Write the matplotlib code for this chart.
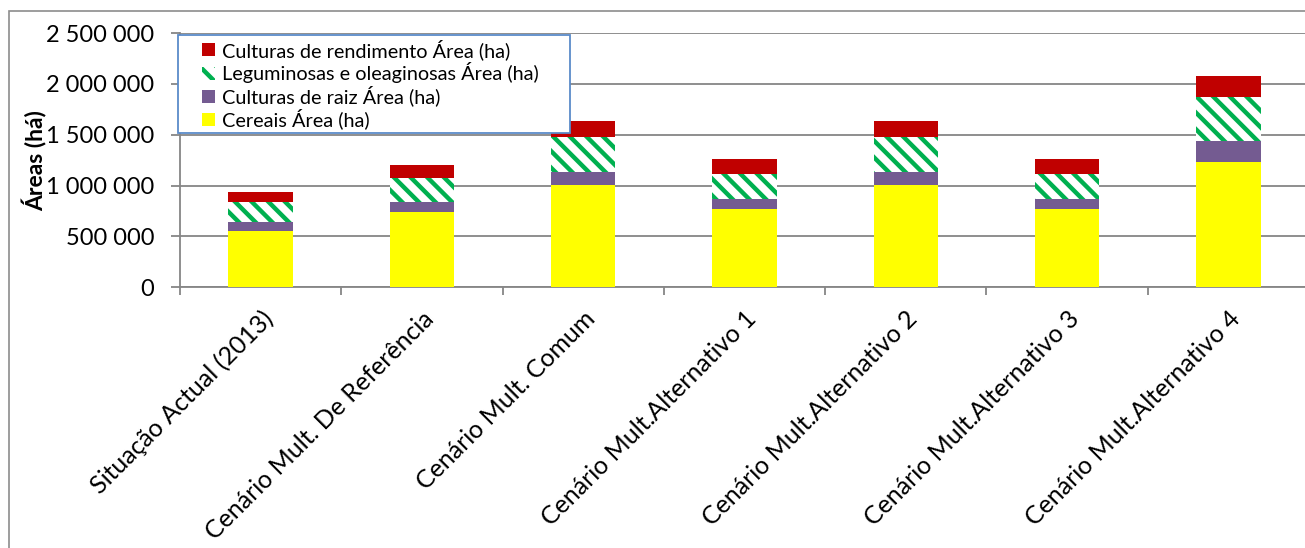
import numpy as np
import matplotlib
matplotlib.use("Agg")
import matplotlib.pyplot as plt
from matplotlib.patches import Rectangle
from matplotlib.ticker import FuncFormatter, FixedLocator

plt.rcParams['font.family'] = ['Lato', 'DejaVu Sans']
plt.rcParams['hatch.linewidth'] = 3.2

# areas in hectares, by scenario
scenarios = ["Situação Actual (2013)", "Cenário Mult. De Referência", "Cenário Mult. Comum",
             "Cenário Mult.Alternativo 1", "Cenário Mult.Alternativo 2",
             "Cenário Mult.Alternativo 3", "Cenário Mult.Alternativo 4"]
cereais = [554000, 744000, 1004000, 768000, 1004000, 768000, 1233000]
raiz = [86000, 99000, 131000, 98000, 131000, 98000, 204000]
leguminosas = [197000, 236000, 338000, 246000, 338000, 246000, 430000]
rendimento = [104000, 125000, 161000, 151000, 161000, 151000, 213000]

W, H = 1305, 548
fig = plt.figure(figsize=(W / 100, H / 100), dpi=100)
ax = fig.add_axes([180 / W, (H - 287.3) / H, 1129 / W, 254.3 / H])

x = np.arange(len(scenarios))
bw = 0.4
b1 = ax.bar(x, cereais, bw, color='#FFFF00', linewidth=0, label='Cereais Área (ha)', zorder=3)
bottom = np.array(cereais)
b2 = ax.bar(x, raiz, bw, bottom=bottom, color='#745B91', linewidth=0,
            label='Culturas de raiz Área (ha)', zorder=3)
bottom = bottom + np.array(raiz)
b3 = ax.bar(x, leguminosas, bw, bottom=bottom, facecolor='white', edgecolor='#00B050',
            hatch='\\\\', linewidth=0, label='Leguminosas e oleaginosas Área (ha)', zorder=3)
bottom = bottom + np.array(leguminosas)
b4 = ax.bar(x, rendimento, bw, bottom=bottom, color='#C00000', linewidth=0,
            label='Culturas de rendimento Área (ha)', zorder=3)

ax.set_xlim(-0.5, len(scenarios) - 0.5)
ax.set_ylim(0, 2500000)
ax.set_yticks(np.arange(0, 2500001, 500000))
ax.yaxis.set_major_formatter(FuncFormatter(lambda v, p: f"{int(v):,}".replace(",", " ")))
ax.yaxis.grid(True, color='#868686', linewidth=1.3, zorder=0)
ax.set_axisbelow(True)

grey = '#868686'
for s in ['top', 'right']:
    ax.spines[s].set_visible(False)
for s in ['left', 'bottom']:
    ax.spines[s].set_color(grey)
    ax.spines[s].set_linewidth(1.3)

ax.tick_params(axis='y', direction='out', length=6.5, width=1.3, color=grey,
               labelsize=17, pad=12)
ax.set_xticks(x)
ax.set_xticklabels(scenarios, rotation=45, ha='right', rotation_mode='anchor', fontsize=18)
ax.tick_params(axis='x', which='major', length=0, pad=14)
ax.xaxis.set_minor_locator(FixedLocator(np.arange(-0.5, len(scenarios), 1.0)))
ax.tick_params(axis='x', which='minor', direction='out', length=6, width=1.3, color=grey)

ax.set_ylabel('Áreas (há)', fontsize=16.5, fontweight='bold')
ax.yaxis.set_label_coords(-133 / 1129, 0.5)

# legend box drawn separately: wider than its content, white over the grid
def px_to_ax(px, py):
    return (px - 180) / 1129, (287.3 - py) / 254.3

x0, y0 = px_to_ax(178, 133)
x1, y1 = px_to_ax(570, 35)
ax.add_patch(Rectangle((x0, y0), x1 - x0, y1 - y0, transform=ax.transAxes, facecolor='white',
                       edgecolor='#5B8BC9', linewidth=1.3, zorder=5, clip_on=False))
lx, ly = px_to_ax(198, 35)
leg = ax.legend(handles=[b4, b3, b2, b1], loc='upper left', bbox_to_anchor=(lx, ly),
                fontsize=14.3, frameon=False, handlelength=0.65, handleheight=0.65,
                handletextpad=0.35, labelspacing=0.12, borderpad=0.2, borderaxespad=0)
leg.set_zorder(6)

# outer chart border
fig.patches.append(Rectangle((9 / W, -0.1), 1.2, 1.1 - 11 / H, transform=fig.transFigure,
                             fill=False, edgecolor='#8C8C8C', linewidth=1.2))

fig.savefig('out.png', dpi=100)
